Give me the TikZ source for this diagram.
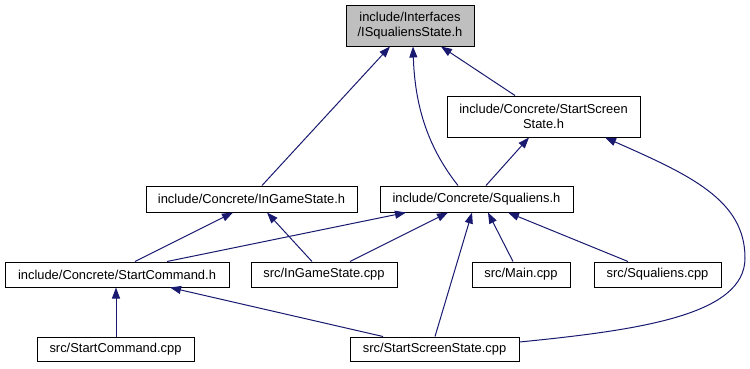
\documentclass[tikz,border=0pt]{standalone}
\usepackage{fontspec}
\setmainfont{Liberation Sans}
\usetikzlibrary{arrows.meta}
\definecolor{edgeblue}{HTML}{191970}
\definecolor{rootgray}{HTML}{BFBFBF}
\begin{document}
\begin{tikzpicture}[x=1pt,y=-1pt,
  box/.style={draw=black, line width=1pt, fill=white, inner sep=0pt, align=center,
              font=\fontsize{12.9}{15}\selectfont},
  dep/.style={draw=edgeblue, line width=1pt, -{Triangle[length=11pt,width=8pt]}}]
\useasboundingbox (0,0) rectangle (750,368);

% file nodes
\node[box, fill=rootgray, minimum width=128pt, minimum height=41pt] (isq) at (410,25.5) {include/Interfaces\\/ISqualiensState.h};
\node[box, minimum width=193pt, minimum height=41pt] (sss_h) at (543.5,116.5) {include/Concrete/StartScreen\\State.h};
\node[box, minimum width=211pt, minimum height=26pt] (igs_h) at (251.5,199) {include/Concrete/InGameState.h};
\node[box, minimum width=193pt, minimum height=26pt] (sq_h) at (476.5,199) {include/Concrete/Squaliens.h};
\node[box, minimum width=224pt, minimum height=25pt] (sc_h) at (117,274.5) {include/Concrete/StartCommand.h};
\node[box, minimum width=146pt, minimum height=25pt] (igs_cpp) at (324,274.5) {src/InGameState.cpp};
\node[box, minimum width=98pt, minimum height=25pt] (main) at (521,274.5) {src/Main.cpp};
\node[box, minimum width=127pt, minimum height=25pt] (sq_cpp) at (657.5,274.5) {src/Squaliens.cpp};
\node[box, minimum width=157pt, minimum height=24pt] (sc_cpp) at (115.5,349) {src/StartCommand.cpp};
\node[box, minimum width=169pt, minimum height=24pt] (sss_cpp) at (434.5,349) {src/StartScreenState.cpp};

% include dependencies (arrow points to the included header)
\draw[dep] ([xshift=10.5pt]igs_h.north) -- ([xshift=-20pt]isq.south);
\draw[dep] ([xshift=-18.5pt]sq_h.north) .. controls (430,150) and (415,110) .. ([xshift=3pt]isq.south);
\draw[dep] ([xshift=-28.5pt]sss_h.north) -- ([xshift=31pt]isq.south);
\draw[dep] ([xshift=9.5pt]sq_h.north) -- ([xshift=-14.5pt]sss_h.south);
\draw[dep] ([yshift=7pt]sss_cpp.east) .. controls (640,330) and (745,315) .. (745,258)
           .. controls (745,200) and (690,175) .. ([xshift=61.5pt]sss_h.south);
\draw[dep] ([xshift=18pt]sc_h.north) -- ([xshift=-18.5pt]igs_h.south);
\draw[dep] ([xshift=-12pt]igs_cpp.north) -- ([xshift=15.5pt]igs_h.south);
\draw[dep] ([xshift=50pt]sc_h.north) -- ([xshift=-70.5pt]sq_h.south);
\draw[dep] ([xshift=26pt]igs_cpp.north) -- ([xshift=-28.5pt]sq_h.south);
\draw[dep] ([xshift=0.5pt]sss_cpp.north) -- ([xshift=-4.5pt]sq_h.south);
\draw[dep] ([xshift=-8pt]main.north) -- ([xshift=11.5pt]sq_h.south);
\draw[dep] ([xshift=-29.5pt]sq_cpp.north) -- ([xshift=31.5pt]sq_h.south);
\draw[dep] ([xshift=0.5pt]sc_cpp.north) -- ([xshift=-1pt]sc_h.south);
\draw[dep] ([xshift=-51.5pt]sss_cpp.north) -- ([xshift=53pt]sc_h.south);
\end{tikzpicture}
\end{document}
